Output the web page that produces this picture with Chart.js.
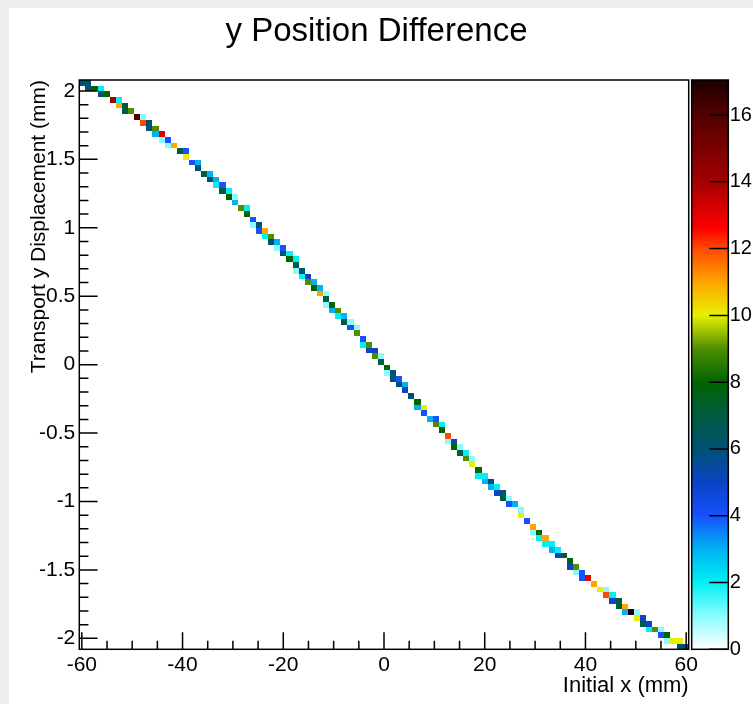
<!DOCTYPE html>
<html>
<head>
<meta charset="utf-8">
<title>y Position Difference</title>
<script src="https://cdn.jsdelivr.net/npm/chart.js@4.4.0/dist/chart.umd.min.js"></script>
<style>
  html, body { margin: 0; padding: 0; background: #fff; }
  canvas { display: block; }
</style>
</head>
<body>
<canvas id="histChart" width="753" height="704"></canvas>
<script>
// TH2 binning (mm)
const xRange = [-60.5, 60.5];
const yRange = [-2.08, 2.08];
const nBinsX = 100;
const nBinsY = 100;
const zMax = 17.05;

// filled bins: x bin index, y bin index (from bottom), entries
const binX = [
  0, 1, 1, 2, 3, 3, 4, 5, 6, 6,
  7, 7, 8, 9, 10, 10, 11, 11, 12, 12,
  13, 13, 14, 14, 15, 16, 17, 17, 18, 19,
  19, 20, 21, 21, 22, 22, 23, 23, 24, 24,
  25, 25, 26, 27, 27, 28, 28, 29, 29, 30,
  30, 31, 31, 32, 32, 33, 33, 34, 34, 35,
  35, 35, 36, 36, 37, 37, 38, 38, 39, 39,
  40, 40, 40, 41, 41, 42, 42, 43, 43, 44,
  44, 45, 45, 46, 46, 47, 47, 48, 48, 49,
  49, 50, 50, 51, 51, 52, 52, 53, 53, 54,
  55, 55, 56, 56, 57, 58, 58, 59, 59, 60,
  60, 61, 61, 62, 62, 63, 63, 64, 64, 65,
  65, 66, 66, 67, 67, 68, 68, 69, 69, 70,
  70, 71, 72, 72, 73, 74, 74, 75, 75, 76,
  76, 77, 77, 78, 78, 79, 80, 80, 81, 81,
  82, 82, 83, 84, 85, 86, 86, 87, 87, 88,
  88, 89, 89, 90, 91, 91, 92, 92, 93, 93,
  94, 95, 95, 96, 96, 97, 98, 98, 99
];
const binY = [
  99, 99, 98, 98, 98, 97, 97, 96, 96, 95,
  95, 94, 94, 93, 93, 92, 92, 91, 91, 90,
  90, 89, 89, 88, 88, 87, 87, 86, 85, 85,
  84, 83, 83, 82, 82, 81, 81, 80, 80, 79,
  79, 78, 77, 77, 76, 75, 74, 74, 73, 73,
  72, 72, 71, 71, 70, 70, 69, 69, 68, 68,
  67, 66, 66, 65, 65, 64, 64, 63, 63, 62,
  62, 61, 60, 60, 59, 59, 58, 58, 57, 57,
  56, 56, 55, 54, 53, 53, 52, 52, 51, 51,
  50, 49, 48, 48, 47, 47, 46, 46, 45, 44,
  43, 42, 42, 41, 40, 40, 39, 39, 38, 37,
  36, 36, 35, 35, 34, 34, 33, 33, 32, 31,
  30, 30, 29, 29, 28, 28, 27, 27, 26, 26,
  25, 25, 24, 23, 22, 21, 20, 20, 19, 19,
  18, 18, 17, 17, 16, 16, 15, 14, 14, 13,
  13, 12, 12, 11, 10, 10, 9, 9, 8, 8,
  7, 7, 6, 6, 6, 5, 5, 4, 4, 3,
  3, 3, 2, 2, 1, 1, 1, 0, 0
];
const binCount = [
  6, 6, 6, 8, 2, 6, 8, 14, 2, 11,
  7, 7, 9, 16, 1, 12, 6, 6, 9, 3,
  13, 1, 4, 1, 11, 7, 4, 10, 4, 3,
  6, 7, 3, 6, 3, 2, 4, 7, 2, 8,
  1, 3, 9, 2, 8, 4, 1, 6, 4, 11,
  2, 9, 6, 3, 1, 4, 6, 2, 8, 2,
  7, 1, 6, 2, 5, 9, 3, 8, 3, 11,
  1, 7, 1, 8, 3, 9, 2, 3, 7, 1,
  4, 1, 9, 4, 2, 9, 5, 5, 9, 1,
  7, 8, 1, 6, 6, 4, 6, 3, 5, 6,
  8, 3, 10, 4, 3, 4, 9, 2, 8, 12,
  1, 5, 8, 1, 7, 2, 9, 1, 10, 8,
  2, 2, 3, 6, 3, 2, 5, 6, 7, 1,
  4, 3, 1, 10, 4, 11, 1, 8, 2, 11,
  2, 2, 3, 2, 5, 7, 8, 5, 9, 1,
  4, 4, 13, 11, 10, 1, 12, 2, 5, 7,
  7, 11, 3, 17, 1, 10, 5, 7, 5, 2,
  9, 1, 4, 8, 1, 10, 10, 6, 6
];

const xTicks = [-60, -40, -20, 0, 20, 40, 60];
const yTicks = [-2, -1.5, -1, -0.5, 0, 0.5, 1, 1.5, 2];
const zTicks = [0, 2, 4, 6, 8, 10, 12, 14, 16];

// colour palette stops [z, colour]
const palette = [
  [0, '#ffffff'], [1, '#8afcff'], [2, '#00f0f4'], [3, '#00b2f2'],
  [4, '#1650ff'], [5, '#0a44c4'], [6, '#005274'], [7, '#005c40'],
  [8, '#006400'], [9, '#4e8e00'], [10, '#e8f000'], [11, '#ffa400'],
  [12, '#ff4a00'], [12.6, '#ff0000'], [14, '#a40000'], [16, '#520000'],
  [17.05, '#1e0000']
];

const dx = (xRange[1] - xRange[0]) / nBinsX;
const dy = (yRange[1] - yRange[0]) / nBinsY;

function hexRgb(h) {
  return [1, 3, 5].map(i => parseInt(h.substr(i, 2), 16));
}

function colorFor(z) {
  for (let i = 1; i < palette.length; i++) {
    if (z <= palette[i][0]) {
      const [z0, c0] = palette[i - 1];
      const [z1, c1] = palette[i];
      const t = (z - z0) / (z1 - z0);
      const a = hexRgb(c0), b = hexRgb(c1);
      const c = a.map((v, k) => Math.round(v + (b[k] - v) * t));
      return `rgb(${c[0]},${c[1]},${c[2]})`;
    }
  }
  return palette[palette.length - 1][1];
}

const cells = binX.map((ix, k) => ({
  x: xRange[0] + (ix + 0.5) * dx,
  y: yRange[0] + (binY[k] + 0.5) * dy,
  z: binCount[k]
}));

const colzPlugin = {
  id: 'colz',
  beforeDraw(chart) {
    const ctx = chart.ctx;
    ctx.save();
    ctx.fillStyle = '#eeeeee';
    ctx.fillRect(0, 0, chart.width, chart.height);
    ctx.fillStyle = '#ffffff';
    ctx.fillRect(9, 8, chart.width - 9, chart.height - 8);
    ctx.restore();
  },
  afterDatasetsDraw(chart) {
    const {ctx, chartArea: a, scales} = chart;
    const xs = scales.x, ys = scales.y, zs = scales.z;
    const data = chart.data.datasets[0].data;

    ctx.save();
    ctx.beginPath();
    ctx.rect(a.left, a.top, a.right - a.left, a.bottom - a.top);
    ctx.clip();
    data.forEach(c => {
      const x0 = Math.round(xs.getPixelForValue(c.x - dx / 2));
      const x1 = Math.round(xs.getPixelForValue(c.x + dx / 2));
      const y0 = Math.round(ys.getPixelForValue(c.y + dy / 2));
      const y1 = Math.round(ys.getPixelForValue(c.y - dy / 2));
      ctx.fillStyle = colorFor(c.z);
      ctx.fillRect(x0, y0, x1 - x0, y1 - y0);
    });
    ctx.restore();

    ctx.save();
    ctx.strokeStyle = '#000';
    ctx.lineWidth = 1.5;
    ctx.strokeRect(a.left, a.top, a.right - a.left, a.bottom - a.top);

    // ticks drawn inside the frame, ROOT style
    const h = a.bottom - a.top, w = a.right - a.left;
    ctx.beginPath();
    for (let v = -60; v <= 60; v += 5) {
      const px = xs.getPixelForValue(v);
      const len = xTicks.includes(v) ? 0.03 * h : 0.015 * h;
      ctx.moveTo(px, a.bottom);
      ctx.lineTo(px, a.bottom - len);
    }
    for (let i = -20; i <= 20; i++) {
      const v = i / 10;
      const py = ys.getPixelForValue(v);
      const len = i % 5 === 0 ? 0.03 * w : 0.015 * w;
      ctx.moveTo(a.left, py);
      ctx.lineTo(a.left + len, py);
    }
    ctx.stroke();

    // palette axis
    const bx0 = zs.left + 3, bx1 = zs.left + 39.6;
    const zb = zs.getPixelForValue(0), zt = zs.getPixelForValue(zMax);
    const grad = ctx.createLinearGradient(0, zb, 0, zt);
    palette.forEach(([z, col]) => grad.addColorStop(z / zMax, col));
    ctx.fillStyle = grad;
    ctx.fillRect(bx0, zt, bx1 - bx0, zb - zt);
    ctx.strokeRect(bx0, zt, bx1 - bx0, zb - zt);
    ctx.beginPath();
    zTicks.forEach(v => {
      const py = zs.getPixelForValue(v);
      ctx.moveTo(bx1, py);
      ctx.lineTo(bx1 - 19, py);
    });
    ctx.stroke();
    ctx.restore();
  }
};

Chart.defaults.font.family = '"Liberation Sans", Arial, Helvetica, sans-serif';
Chart.defaults.color = '#000';

new Chart(document.getElementById('histChart'), {
  type: 'scatter',
  data: {
    datasets: [{
      label: 'entries',
      data: cells,
      pointRadius: 0,
      pointHoverRadius: 0
    }]
  },
  options: {
    responsive: false,
    animation: false,
    events: [],
    layout: { padding: 0 },
    plugins: {
      legend: { display: false },
      tooltip: { enabled: false },
      title: {
        display: true,
        text: 'y Position Difference',
        font: { size: 33, weight: 'normal' },
        color: '#000',
        padding: { top: 12.2, bottom: 28.2 }
      }
    },
    scales: {
      x: {
        type: 'linear',
        min: xRange[0],
        max: xRange[1],
        grid: { display: false, drawTicks: false },
        border: { display: false },
        afterBuildTicks: s => { s.ticks = xTicks.map(v => ({ value: v })); },
        ticks: { font: { size: 21 }, padding: 3, maxRotation: 0, autoSkip: false, callback: v => String(v) },
        title: { display: true, text: 'Initial x (mm)', align: 'end', font: { size: 22 }, padding: { top: 0, bottom: 4.5 } },
        afterFit: s => { s.height = 54.7; }
      },
      y: {
        type: 'linear',
        min: yRange[0],
        max: yRange[1],
        grid: { display: false, drawTicks: false },
        border: { display: false },
        afterBuildTicks: s => { s.ticks = yTicks.map(v => ({ value: v })); },
        ticks: { font: { size: 21 }, padding: 4, autoSkip: false, callback: v => String(v) },
        title: { display: true, text: 'Transport y Displacement (mm)', align: 'end', font: { size: 21 }, padding: { top: 26.6, bottom: 0 } },
        afterFit: s => { s.width = 79.3; }
      },
      z: {
        type: 'linear',
        axis: 'y',
        position: 'right',
        min: 0,
        max: zMax,
        grid: { display: false, drawTicks: false },
        border: { display: false },
        afterBuildTicks: s => { s.ticks = zTicks.map(v => ({ value: v })); },
        ticks: { font: { size: 20 }, padding: 41, autoSkip: false },
        afterFit: s => { s.width = 64.3; }
      }
    }
  },
  plugins: [colzPlugin]
});
</script>
</body>
</html>
